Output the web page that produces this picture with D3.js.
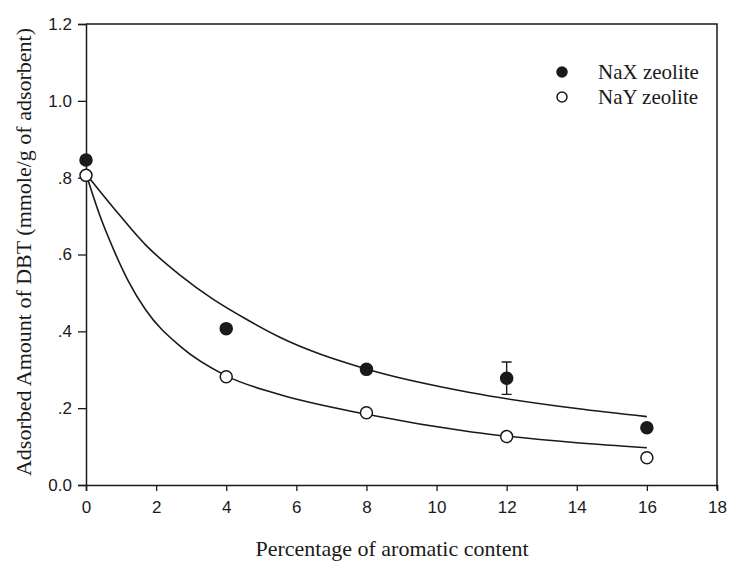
<!DOCTYPE html>
<html>
<head>
<meta charset="utf-8">
<script src="https://d3js.org/d3.v7.min.js"></script>
<style>
  body { margin: 0; background: #fff; }
  svg { display: block; }
</style>
</head>
<body>
<svg id="chart" width="729" height="562"></svg>
<script>
// measured points (aromatic %, adsorbed DBT mmol/g)
const aromatic = [0, 4, 8, 12, 16];
const naxValues = [0.846, 0.407, 0.301, 0.278, 0.149];
const naxErrors = [0.010, 0.006, 0.008, 0.042, 0.005];
const nayValues = [0.806, 0.282, 0.188, 0.126, 0.071];
const nayErrors = [0.005, 0.006, 0.006, 0.010, 0.006];

// fitted curves
const naxFitX = [0, 0.8, 1.7, 2.7, 3.6, 4.6, 5.5, 8, 11, 14, 16];
const naxFitY = [0.81, 0.72, 0.625, 0.545, 0.485, 0.430, 0.386, 0.302, 0.240, 0.199, 0.178];
const nayFitX = [0, 0.4, 0.8, 1.2, 1.7, 2.7, 4, 5.5, 8, 11, 14, 16];
const nayFitY = [0.81, 0.700, 0.610, 0.532, 0.456, 0.360, 0.284, 0.236, 0.184, 0.138, 0.110, 0.097];

const xTicks = [0, 2, 4, 6, 8, 10, 12, 14, 16, 18];
const yTicks = [0, 0.2, 0.4, 0.6, 0.8, 1.0, 1.2];
const yTickLabels = ["0.0", ".2", ".4", ".6", ".8", "1.0", "1.2"];

const legendNames = ["NaX zeolite", "NaY zeolite"];

const svg = d3.select("#chart");
const m = { left: 86, right: 717, top: 24, bottom: 485 };

const x = d3.scaleLinear().domain([0, 18]).range([m.left, m.right]);
const y = d3.scaleLinear().domain([0, 1.2]).range([m.bottom, m.top]);

const ink = "#1a1a1a";

// frame (top + right)
svg.append("path")
  .attr("d", `M${m.left},${m.top}H${m.right}V${m.bottom + 4}`)
  .attr("fill", "none").attr("stroke", ink).attr("stroke-width", 1.5);

// x axis
const xAxis = svg.append("g")
  .attr("transform", `translate(0,${m.bottom})`)
  .call(d3.axisBottom(x).tickValues(xTicks).tickSize(6).tickPadding(10).tickFormat(d3.format("d")));
xAxis.select(".domain").attr("stroke", ink).attr("stroke-width", 1.5);
xAxis.selectAll(".tick line").attr("stroke", ink).attr("stroke-width", 1.3);
xAxis.selectAll("text")
  .attr("fill", ink)
  .style("font-family", "'Liberation Sans', Arial, sans-serif")
  .style("font-size", "17px");

// y axis
const yAxis = svg.append("g")
  .attr("transform", `translate(${m.left},0)`)
  .call(d3.axisLeft(y).tickValues(yTicks).tickSize(8).tickPadding(6)
    .tickFormat((d, i) => yTickLabels[i]));
yAxis.select(".domain").attr("stroke", ink).attr("stroke-width", 1.5);
yAxis.selectAll(".tick line").attr("stroke", ink).attr("stroke-width", 1.3);
yAxis.selectAll("text")
  .attr("fill", ink)
  .style("font-family", "'Liberation Sans', Arial, sans-serif")
  .style("font-size", "17px");

// axis titles
svg.append("text")
  .attr("x", 392).attr("y", 556)
  .attr("text-anchor", "middle")
  .attr("fill", ink)
  .style("font-family", "'Liberation Serif', 'Times New Roman', serif")
  .style("font-size", "22px")
  .text("Percentage of aromatic content");

svg.append("text")
  .attr("transform", "translate(31,252) rotate(-90)")
  .attr("text-anchor", "middle")
  .attr("fill", ink)
  .style("font-family", "'Liberation Serif', 'Times New Roman', serif")
  .style("font-size", "22px")
  .text("Adsorbed Amount of DBT (mmole/g of adsorbent)");

// fitted curves
const line = d3.line().x(d => x(d[0])).y(d => y(d[1])).curve(d3.curveMonotoneX);
const fits = [
  d3.zip(naxFitX, naxFitY),
  d3.zip(nayFitX, nayFitY)
];
svg.selectAll(".fit")
  .data(fits)
  .join("path")
  .attr("class", "fit")
  .attr("d", line)
  .attr("fill", "none")
  .attr("stroke", ink)
  .attr("stroke-width", 1.6);

// error bars + markers
const series = [
  { values: naxValues, errors: naxErrors, fill: ink },
  { values: nayValues, errors: nayErrors, fill: "#fff" }
];

series.forEach(s => {
  const pts = aromatic.map((a, i) => ({ a, v: s.values[i], e: s.errors[i] }));
  const g = svg.append("g");
  const eb = g.selectAll(".eb").data(pts).join("g").attr("class", "eb");
  eb.append("path")
    .attr("d", d => {
      const cx = x(d.a), y1 = y(d.v + d.e), y0 = y(d.v - d.e);
      return `M${cx},${y1}V${y0}M${cx - 5},${y1}H${cx + 5}M${cx - 5},${y0}H${cx + 5}`;
    })
    .attr("fill", "none").attr("stroke", ink).attr("stroke-width", 1.4);
  g.selectAll("circle").data(pts).join("circle")
    .attr("cx", d => x(d.a))
    .attr("cy", d => y(d.v))
    .attr("r", 6)
    .attr("fill", s.fill)
    .attr("stroke", ink)
    .attr("stroke-width", 1.5);
});

// legend
const legend = svg.append("g").attr("transform", "translate(562,72)");
legendNames.forEach((name, i) => {
  const row = legend.append("g").attr("transform", `translate(0,${i * 25})`);
  row.append("circle")
    .attr("r", 5)
    .attr("fill", series[i].fill)
    .attr("stroke", ink)
    .attr("stroke-width", 1.5);
  row.append("text")
    .attr("x", 36).attr("y", 7)
    .attr("fill", ink)
    .style("font-family", "'Liberation Serif', 'Times New Roman', serif")
    .style("font-size", "21px")
    .text(name);
});
</script>
</body>
</html>
